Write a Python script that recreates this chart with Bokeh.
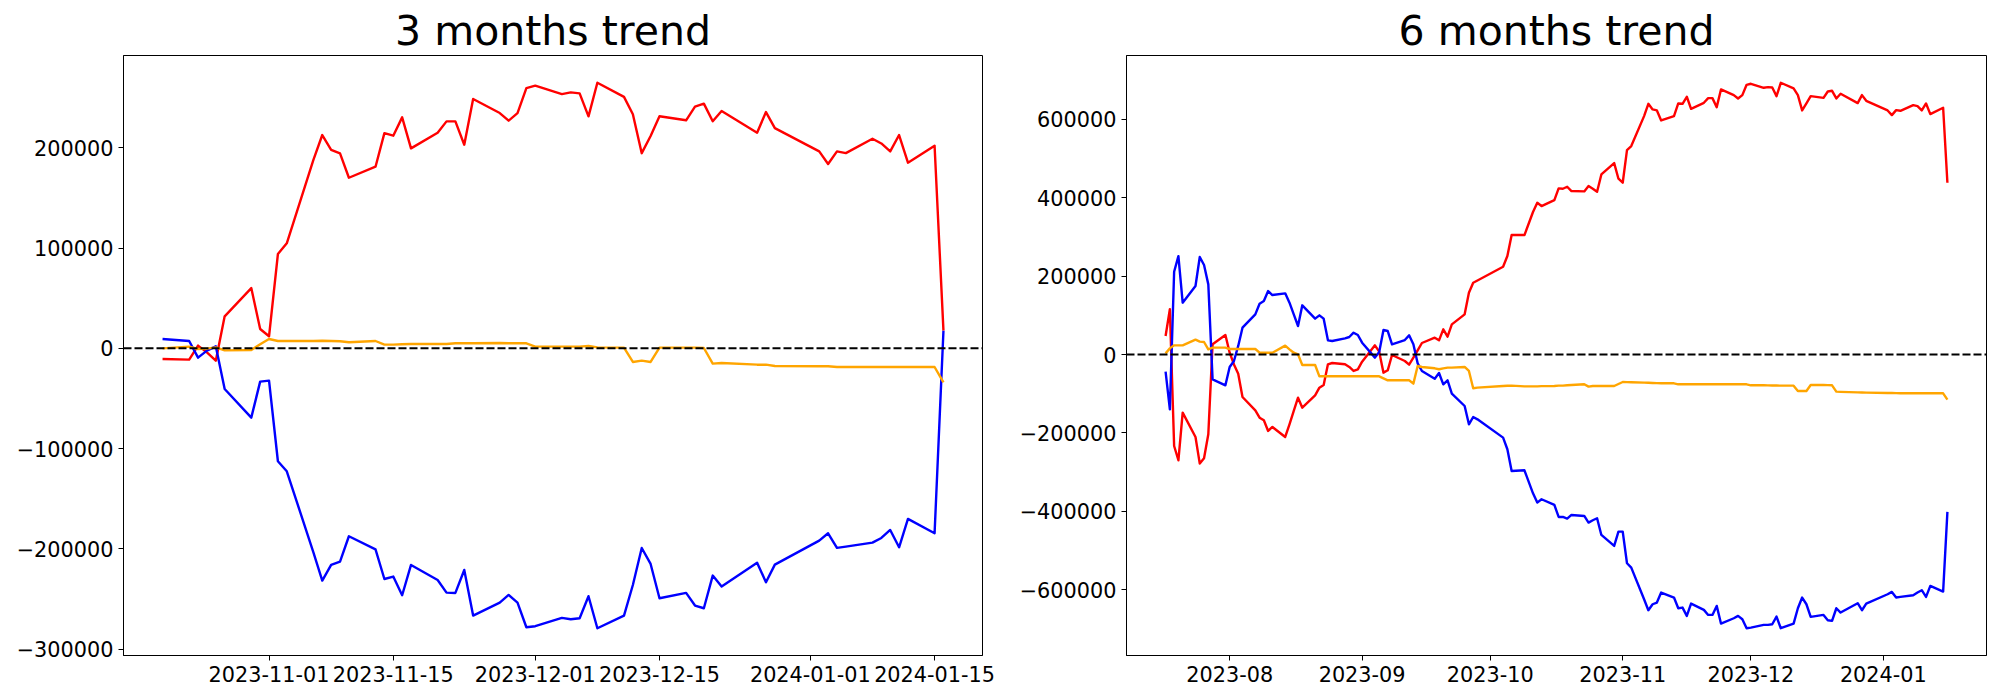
import pandas as pd
from bokeh.plotting import figure
from bokeh.models import Span, FixedTicker, DatetimeTickFormatter, Range1d
from bokeh.layouts import row
from bokeh.embed import file_html
from bokeh.resources import INLINE

# ---------------- 3 months data ----------------
dates_3m = [
    "2023-10-20", "2023-10-23", "2023-10-24", "2023-10-25", "2023-10-26", "2023-10-27", "2023-10-30", "2023-10-31",
    "2023-11-01", "2023-11-02", "2023-11-03", "2023-11-06", "2023-11-07", "2023-11-08", "2023-11-09", "2023-11-10",
    "2023-11-13", "2023-11-14", "2023-11-15", "2023-11-16", "2023-11-17", "2023-11-20", "2023-11-21", "2023-11-22",
    "2023-11-23", "2023-11-24", "2023-11-27", "2023-11-28", "2023-11-29", "2023-11-30",
    "2023-12-01", "2023-12-04", "2023-12-05", "2023-12-06", "2023-12-07", "2023-12-08", "2023-12-11", "2023-12-12",
    "2023-12-13", "2023-12-14", "2023-12-15", "2023-12-18", "2023-12-19", "2023-12-20", "2023-12-21", "2023-12-22",
    "2023-12-26", "2023-12-27", "2023-12-28",
    "2024-01-02", "2024-01-03", "2024-01-04", "2024-01-05", "2024-01-08", "2024-01-09", "2024-01-10", "2024-01-11",
    "2024-01-12", "2024-01-15", "2024-01-16",
]
red_3m = [
    -10600, -11300, 2700, -4000, -12300, 31900, 60100, 19300,
    12000, 94000, 104700, 188000, 212700, 198000, 194400, 170100, 181100, 214600, 212000, 230300, 199400,
    215000, 226300, 226300, 203000, 248600, 234600, 227000, 234600, 259500,
    261900, 253500, 255200, 254200, 231300, 264800, 250700, 233400, 194600, 211800, 231400, 227400, 241000,
    244000, 226400, 236700, 215000, 235600, 219600,
    196400, 183800, 196400, 194700, 209000, 204300, 196400, 212700, 185100, 202000, 17600,
]
blue_3m = [
    9300, 7300, -9300, -2300, 2000, -40500, -69100, -33200,
    -32200, -112600, -122600, -203400, -231600, -216000, -212700, -187400, -200400, -230000, -227600, -246200,
    -216000, -231000, -243600, -243900, -221000, -266500, -253500, -245900, -253500, -278100,
    -277100, -268800, -270200, -269200, -247200, -279100, -266500, -236000, -199100, -215000, -249200, -243900,
    -256500, -259200, -226600, -237600, -213700, -233300, -215700,
    -191700, -184400, -199000, -197700, -193700, -189100, -181100, -198400, -170100, -184400, 17600,
]
orange_3m = [
    0, 1700, -700, -300, 1000, -2000, -1700, 4000,
    9300, 7300, 7300, 7300, 7600, 7300, 7000, 6000, 7300, 3700, 3700, 4000, 4300, 4300, 4300, 5000, 5000, 5000,
    5300, 5000, 5000, 5000,
    1700, 1700, 1700, 1700, 2300, 1000, 700, -13600, -12300, -13600, 700, 700, 700, 300, -15300, -14600,
    -16300, -16300, -17600,
    -17900, -17900, -18600, -18600, -18600, -18600, -18600, -18600, -18600, -18600, -33900,
]
yticks_3m = [-300000, -200000, -100000, 0, 100000, 200000]
xticks_3m = ["2023-11-01", "2023-11-15", "2023-12-01", "2023-12-15", "2024-01-01", "2024-01-15"]

# ---------------- 6 months data ----------------
dates_6m = [
    "2023-07-17", "2023-07-18", "2023-07-19", "2023-07-20", "2023-07-21", "2023-07-24", "2023-07-25", "2023-07-26",
    "2023-07-27", "2023-07-28", "2023-07-31",
    "2023-08-01", "2023-08-02", "2023-08-03", "2023-08-04", "2023-08-07", "2023-08-08", "2023-08-09", "2023-08-10",
    "2023-08-11", "2023-08-14", "2023-08-15", "2023-08-16", "2023-08-17", "2023-08-18", "2023-08-21", "2023-08-22",
    "2023-08-23", "2023-08-24", "2023-08-25", "2023-08-28", "2023-08-29", "2023-08-30", "2023-08-31",
    "2023-09-01", "2023-09-04", "2023-09-05", "2023-09-06", "2023-09-07", "2023-09-08", "2023-09-11", "2023-09-12",
    "2023-09-13", "2023-09-14", "2023-09-15", "2023-09-18", "2023-09-19", "2023-09-20", "2023-09-21", "2023-09-22",
    "2023-09-25", "2023-09-26", "2023-09-27", "2023-09-28",
    "2023-10-04", "2023-10-05", "2023-10-06", "2023-10-09", "2023-10-11", "2023-10-12", "2023-10-13", "2023-10-16",
    "2023-10-17", "2023-10-18", "2023-10-19", "2023-10-20", "2023-10-23", "2023-10-24", "2023-10-25", "2023-10-26",
    "2023-10-27", "2023-10-30", "2023-10-31",
    "2023-11-01", "2023-11-02", "2023-11-03", "2023-11-06", "2023-11-07", "2023-11-08", "2023-11-09", "2023-11-10",
    "2023-11-13", "2023-11-14", "2023-11-15", "2023-11-16", "2023-11-17", "2023-11-20", "2023-11-21", "2023-11-22",
    "2023-11-23", "2023-11-24", "2023-11-27", "2023-11-28", "2023-11-29", "2023-11-30",
    "2023-12-01", "2023-12-04", "2023-12-05", "2023-12-06", "2023-12-07", "2023-12-08", "2023-12-11", "2023-12-12",
    "2023-12-13", "2023-12-14", "2023-12-15", "2023-12-18", "2023-12-19", "2023-12-20", "2023-12-21", "2023-12-22",
    "2023-12-26", "2023-12-27", "2023-12-28",
    "2024-01-02", "2024-01-03", "2024-01-04", "2024-01-05", "2024-01-08", "2024-01-09", "2024-01-10", "2024-01-11",
    "2024-01-12", "2024-01-15", "2024-01-16",
]
red_6m = [
    47400, 115600, -233200, -269700, -148200, -210200, -278200, -264600, -203400, 26200, 50000,
    4900, -25000, -48800, -108300, -142200, -160900, -167700, -194900, -184700, -210200, -177900, -143900,
    -109900, -135400, -104000, -84400, -77500, -24900, -21400, -24800, -31600, -41800, -37600,
    -18000, 23600, 7500, -46100, -40100, -1000, -16300, -25700, -7800, 10900, 29600, 43200, 36400, 64400,
    45700, 77200, 102700, 158000, 183400, 189000,
    224300, 251500, 305100, 305100, 364000, 387600, 379100, 394400, 424100, 423300, 428400, 417400, 416500,
    430100, 423300, 415600, 459800, 488700, 448800,
    438600, 521900, 532100, 608600, 640100, 625700, 623100, 597600, 608600, 640900, 640100, 658000, 627300,
    642600, 654500, 654500, 631500, 676700, 662200, 653700, 662200, 688500,
    691100, 680900, 682600, 681800, 659600, 693700, 679200, 662200, 623100, 640900, 659600, 655300, 671500,
    673200, 653700, 665600, 641800, 662200, 647700,
    623100, 611200, 623900, 622200, 636700, 634100, 623100, 640900, 613700, 629900, 438600,
]
blue_6m = [
    -43600, -139700, 211300, 251300, 132500, 175000, 249000, 228600, 179200, -63100, -78400,
    -31700, -16300, 22100, 68700, 102700, 129900, 136700, 162200, 152000, 156300, 132600, 102700, 72900,
    125800, 91700, 100200, 91700, 36400, 34800, 41500, 44900, 55900, 50000,
    30400, -7700, 6600, 62700, 60200, 26200, 37200, 49100, 26200, -22300, -41900, -61400, -47000, -75900,
    -65700, -99700, -131200, -177900, -159200, -165200,
    -211900, -241600, -296900, -295300, -354000, -377700, -369200, -383700, -414300, -414300, -418600,
    -409200, -411800, -428700, -422800, -417700, -460200, -488300, -451700,
    -451700, -532500, -543600, -624300, -652400, -637100, -632800, -607300, -620000, -647300, -645600,
    -666800, -635400, -651500, -664300, -664300, -641300, -686400, -672800, -666800, -675300, -698300,
    -696600, -689800, -689800, -688100, -668700, -698300, -686400, -647300, -620000, -637100, -669400,
    -664300, -677900, -679600, -647300, -658300, -634500, -652400, -635400,
    -611600, -605600, -620000, -618300, -614100, -607300, -601300, -618300, -590300, -604800, -401500,
]
orange_6m = [
    3200, 15900, 23600, 23600, 23600, 38000, 33000, 32100, 13400, 17700, 17700,
    14300, 14300, 14300, 14300, 14300, 4900, 4900, 4900, 4900, 22800, 13400, 4900, 700, -26500, -26500,
    -55400, -55400, -55400, -55400, -55400, -55400, -55400, -55400,
    -55400, -55400, -55400, -60500, -65600, -65600, -65600, -65600, -74100, -29000, -31600, -35000, -37500,
    -35000, -33300, -33300, -31600, -41800, -86000, -84400,
    -80100, -79600, -79200, -81000, -81000, -81000, -80500, -80100, -79200, -79200, -78400, -77500, -75800,
    -81800, -80100, -80100, -80100, -80100, -75000,
    -69900, -70300, -70700, -71500, -71900, -72300, -72700, -73000, -73300, -75800, -75800, -75800, -75800,
    -75800, -75800, -75800, -75800, -75800, -75800, -75800, -75800, -75800,
    -78400, -78400, -78600, -78800, -79000, -79200, -79200, -92900, -92900, -92900, -77500, -77500, -78000,
    -78400, -94600, -95000, -96300, -96700, -97100,
    -97900, -98000, -98400, -98800, -98800, -98800, -98800, -98800, -98800, -98800, -114900,
]
yticks_6m = [-600000, -400000, -200000, 0, 200000, 400000, 600000]
xticks_6m = ["2023-08-01", "2023-09-01", "2023-10-01", "2023-11-01", "2023-12-01", "2024-01-01"]

FONT = "DejaVu Sans"
FIG_H = 692


def to_ms(date_strings):
    return list(pd.to_datetime(date_strings).asi8 / 1e6)


def make_panel(title, dates, red, blue, orange, yticks, xticks, xfmt, width, b_left, b_right):
    xs = to_ms(dates)
    x_lo, x_hi = min(xs), max(xs)
    xpad = 0.05 * (x_hi - x_lo)
    allv = red + blue + orange
    y_lo, y_hi = min(allv), max(allv)
    ypad = 0.05 * (y_hi - y_lo)

    p = figure(width=width, height=FIG_H, x_axis_type="datetime",
               output_backend="svg", toolbar_location=None,
               x_range=Range1d(x_lo - xpad, x_hi + xpad),
               y_range=Range1d(y_lo - ypad, y_hi + ypad),
               min_border_left=b_left, min_border_right=b_right,
               min_border_top=55, min_border_bottom=37,
               title=title)
    p.background_fill_color = "white"
    p.border_fill_color = "white"
    p.outline_line_color = "black"
    p.outline_line_width = 1
    p.grid.grid_line_color = None

    p.title.text_font = FONT
    p.title.text_font_size = "41px"
    p.title.text_font_style = "normal"
    p.title.text_color = "black"
    p.title.align = "center"
    p.title.standoff = 2

    for c, vals in (("red", red), ("blue", blue), ("orange", orange)):
        p.line(xs, vals, line_color=c, line_width=2.4, line_join="round")

    p.add_layout(Span(location=0, dimension="width", line_color="black",
                      line_width=2, line_dash="8 3"))

    for ax in (p.xaxis, p.yaxis):
        ax.axis_line_color = "black"
        ax.axis_line_width = 1
        ax.major_tick_line_color = "black"
        ax.major_tick_line_width = 1
        ax.major_tick_out = 5
        ax.major_tick_in = 0
        ax.minor_tick_out = 0
        ax.minor_tick_in = 0
        ax.major_label_text_font = FONT
        ax.major_label_text_font_size = "20.8px"
        ax.major_label_text_color = "black"
        ax.major_label_standoff = 5

    p.yaxis.ticker = FixedTicker(ticks=yticks)
    p.yaxis.major_label_overrides = {v: str(v).replace("-", "\u2212") for v in yticks}

    p.xaxis.ticker = FixedTicker(ticks=to_ms(xticks))
    p.xaxis.formatter = DatetimeTickFormatter(
        microseconds=xfmt, milliseconds=xfmt, seconds=xfmt, minsec=xfmt, minutes=xfmt,
        hourmin=xfmt, hours=xfmt, days=xfmt, months=xfmt, years=xfmt)
    return p


p1 = make_panel("3 months trend", dates_3m, red_3m, blue_3m, orange_3m,
                yticks_3m, xticks_3m, "%Y-%m-%d", 1011, 123, 29)
p2 = make_panel("6 months trend", dates_6m, red_6m, blue_6m, orange_6m,
                yticks_6m, xticks_6m, "%Y-%m", 989, 115, 14)

layout = row(p1, p2)
open("out.html", "w").write(file_html(layout, INLINE))
